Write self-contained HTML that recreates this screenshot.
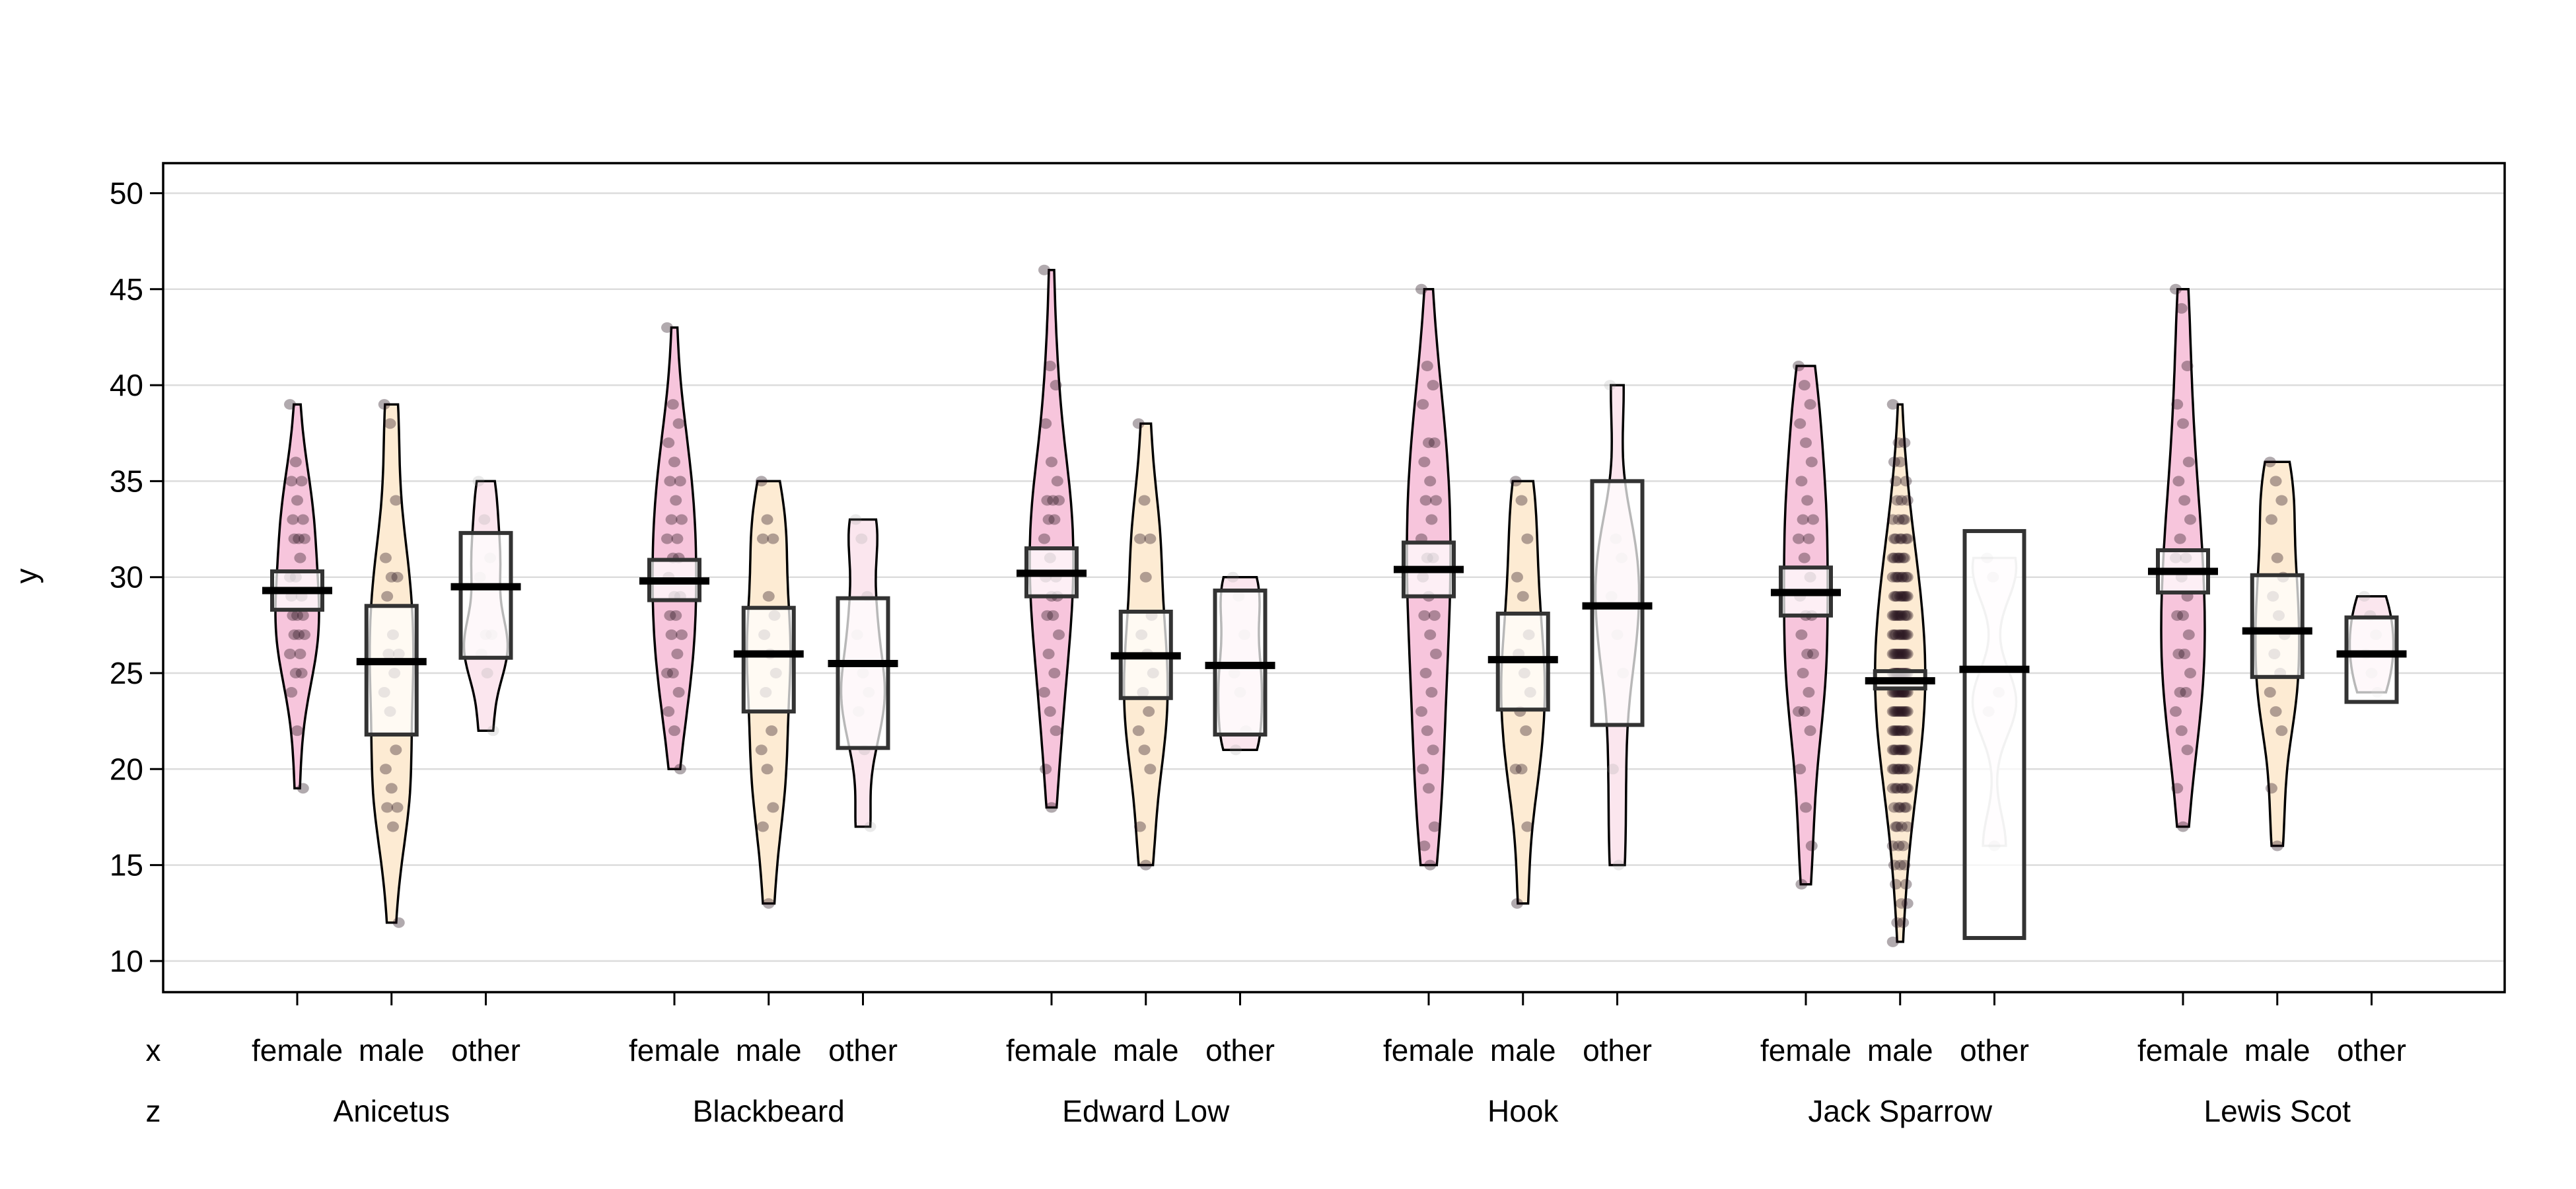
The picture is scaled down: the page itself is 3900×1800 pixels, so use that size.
<!DOCTYPE html>
<html><head><meta charset="utf-8"><style>
html,body{margin:0;padding:0;background:#fff}
svg{display:block;font-family:"Liberation Sans",sans-serif}
</style></head><body>
<svg id="chart" width="3900" height="1800" viewBox="0 0 3900 1800" xmlns="http://www.w3.org/2000/svg"></svg>
<script>
const groups = ["Anicetus","Blackbeard","Edward Low","Hook","Jack Sparrow","Lewis Scot"];
const levels = ["female","male","other"];
const yTicks = [10,15,20,25,30,35,40,45,50];
const means = [29.3,25.6,29.5, 29.8,26.0,25.5, 30.2,25.9,25.4, 30.4,25.7,28.5, 29.2,24.6,25.2, 30.3,27.2,26.0];
const ciLow = [28.3,21.8,25.8, 28.8,23.0,21.1, 29.0,23.7,21.8, 29.0,23.1,22.3, 28.0,24.2,11.2, 29.2,24.8,23.5];
const ciHigh = [30.3,28.5,32.3, 30.9,28.4,28.9, 31.5,28.2,29.3, 31.8,28.1,35.0, 30.5,25.1,32.4, 31.4,30.1,27.9];
// points: number or [value,count]
const points = [
 [39,36,[35,2],34,[33,2],[32,3],31,[30,2],[29,2],[28,3],[27,3],[26,2],[25,2],24,22,19],
 [39,38,34,31,[30,2],29,27,[26,2],25,24,23,21,20,19,[18,2],17,12],
 [35,33,31,30,[27,2],26,25,22],
 [43,39,38,37,36,[35,2],34,[33,2],[32,2],[31,2],30,[29,2],[28,2],[27,2],26,[25,2],24,23,22,20],
 [35,33,[32,2],29,28,27,26,25,24,22,21,20,18,17,13],
 [33,32,29,27,25,24,23,21,17],
 [46,41,40,38,36,35,[34,3],[33,2],32,31,[30,2],[29,2],[28,2],27,26,25,24,23,22,20,18],
 [38,34,[32,2],30,28,27,26,25,24,23,22,21,20,17,15],
 [30,29,27,25,24,22,21],
 [45,41,40,39,[37,2],36,35,[34,2],33,32,[31,2],30,29,[28,2],27,26,25,24,23,22,21,20,19,17,16,15],
 [35,34,32,30,29,27,26,25,24,23,22,[20,2],17,13],
 [40,32,31,29,27,25,20,15],
 [41,40,39,38,37,36,35,34,[33,2],[32,2],31,30,29,[28,2],27,[26,2],25,24,[23,2],22,20,18,16,14],
 [39,[37,2],[36,2],[35,2],[34,3],[33,4],[32,6],[31,7],[30,8],[29,9],[28,10],[27,10],[26,11],[25,12],[24,12],[23,11],[22,10],[21,9],[20,8],[19,7],[18,5],[17,4],[16,3],[15,3],[14,2],[13,2],[12,2],11],
 [31,30,24,23,16],
 [45,44,41,39,38,36,35,34,33,32,[31,2],30,29,[28,2],27,[26,2],25,[24,2],23,22,21,19,17],
 [36,35,34,33,31,30,29,28,27,26,25,24,23,22,19,16],
 [29,28,27,26,25,24]
];
const fills = ["#f7c5dc","#fdebd3","#fbe6ee"];

const svg = document.getElementById('chart');
const NS = "http://www.w3.org/2000/svg";
const PL=247, PR=3792, PT=247, PB=1502;
const yScale = v => 292.5 + (50 - v) * 29.06;
const xScale = k => 450 + k * 142.75;
function mk(tag, attrs, parent){const e=document.createElementNS(NS,tag);for(const k in attrs)e.setAttribute(k,attrs[k]);(parent||svg).appendChild(e);return e;}

yTicks.forEach(t=>{
  const g=mk('line',{x1:PL,x2:PR,y1:yScale(t),y2:yScale(t),stroke:'#dcdcdc','stroke-width':2.5});
  
  
  const tk=mk('line',{x1:PL-20,x2:PL,y1:yScale(t),y2:yScale(t),stroke:'#000','stroke-width':3});
  
  
  const tx=mk('text',{x:PL-30,y:yScale(t)+16,'text-anchor':'end','font-size':46});
  tx.textContent=t;
  
  
});
const yl=mk('text',{x:0,y:0,'font-size':46,'text-anchor':'middle',transform:'translate(56,872) rotate(-90)'});
yl.textContent='y';



function expand(arr){const o=[];arr.forEach(p=>{if(Array.isArray(p)){for(let i=0;i<p[1];i++)o.push(p[0]);}else o.push(p);});return o;}

for(let gi=0;gi<groups.length;gi++){
  for(let li=0;li<3;li++){
    const idx=gi*3+li, k=gi*4+li, cx=xScale(k);
    const vals=expand(points[idx]);
    const mn=Math.min(...vals), mx=Math.max(...vals);
    const bw=Math.max(1.6,(mx-mn)/9);
    const N=60, prof=[];
    for(let s=0;s<=N;s++){const y=mn+(mx-mn)*s/N;let d=0;vals.forEach(v=>{const z=(y-v)/bw;d+=Math.exp(-0.5*z*z);});prof.push([y,d]);}
    const dmax=Math.max(...prof.map(p=>p[1]));
    const W= (gi===4&&li===1)?38:33;
    let dstr='';
    prof.forEach((p,i)=>{dstr+=(i?'L':'M')+(cx+p[1]/dmax*W).toFixed(1)+','+yScale(p[0]).toFixed(1);});
    for(let i=prof.length-1;i>=0;i--){const p=prof[i];dstr+='L'+(cx-p[1]/dmax*W).toFixed(1)+','+yScale(p[0]).toFixed(1);}
    dstr+='Z';
    const faint=(gi===4&&li===2);
    const vio=mk('path',{d:dstr,fill:faint?'#fdf7fa':fills[li],stroke:faint?'#cfcfcf':'#000','stroke-width':3.5});
    
    
    vals.forEach((v,i)=>{
      const off=((i*37)%11-5)*2.2;
      const c=mk('ellipse',{cx:cx+off,cy:yScale(v),rx:9,ry:8,fill:li===2?'rgba(150,150,150,0.2)':'rgba(40,20,30,0.36)'});
      
      
    });
    const bh=(gi===4&&li===2)?45:38;
    const b=mk('rect',{x:cx-bh,y:yScale(ciHigh[idx]),width:bh*2,height:yScale(ciLow[idx])-yScale(ciHigh[idx]),fill:'rgba(255,255,255,0.72)',stroke:'#333','stroke-width':6});
    
    
    const m=mk('line',{x1:cx-53,x2:cx+53,y1:yScale(means[idx]),y2:yScale(means[idx]),stroke:'#000','stroke-width':11});
    
    
    const t=mk('line',{x1:cx,x2:cx,y1:PB,y2:PB+20,stroke:'#000','stroke-width':3});
    
    
    const lt=mk('text',{x:cx,y:1606,'text-anchor':'middle','font-size':46});
    lt.textContent=levels[li];
    
    
  }
  const gt=mk('text',{x:xScale(gi*4+1),y:1698,'text-anchor':'middle','font-size':46});
  gt.textContent=groups[gi];
  
  
}
const xr=mk('text',{x:232,y:1606,'text-anchor':'middle','font-size':46});xr.textContent='x';


const zr=mk('text',{x:232,y:1698,'text-anchor':'middle','font-size':46});zr.textContent='z';


const frame=mk('rect',{x:PL,y:PT,width:PR-PL,height:PB-PT,fill:'none',stroke:'#000','stroke-width':3.5});


</script>
</body></html>
